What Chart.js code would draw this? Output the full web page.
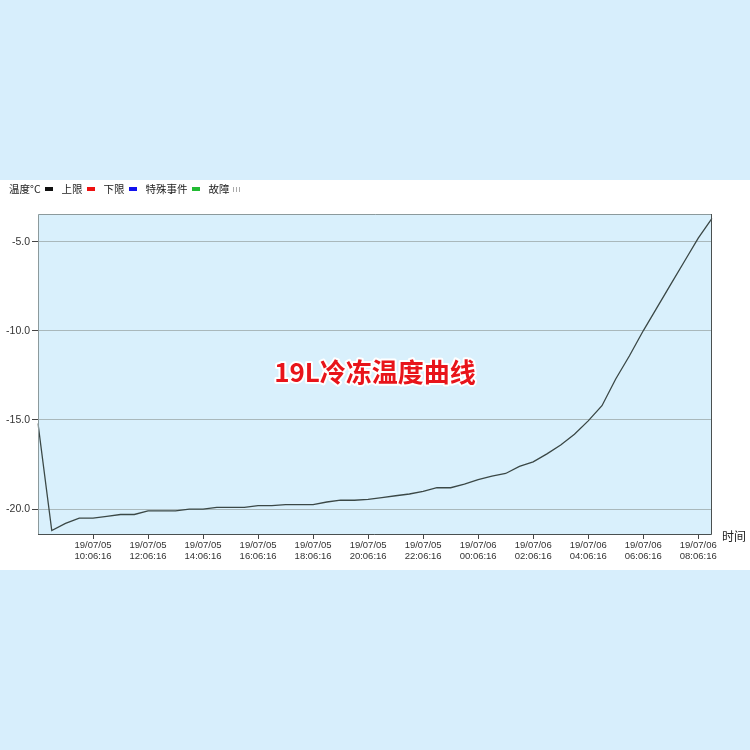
<!DOCTYPE html>
<html>
<head>
<meta charset="utf-8">
<script src="https://cdn.jsdelivr.net/npm/chart.js@4"></script>
<style>
  html, body { margin: 0; padding: 0; }
  body { width: 750px; height: 750px; background: #d7eefc; position: relative; overflow: hidden; font-family: "Liberation Sans", "Noto Sans CJK SC", sans-serif; }
  #band { position: absolute; left: 0; top: 180px; width: 750px; height: 390px; background: #ffffff; }
  #legend { position: absolute; left: 9px; top: 181px; display: flex; align-items: center; font-size: 10.5px; color: #222; font-family: "Noto Sans CJK SC", sans-serif; }
  #legend .box { display: inline-block; width: 8px; height: 4px; margin: 1px 9px 0 4px; }
  #wrap { position: absolute; left: 0; top: 180px; width: 750px; height: 390px; }
</style>
</head>
<body>
<div id="band"></div>
<div id="wrap"><canvas id="grafico-temp" width="750" height="390"></canvas></div>
<div id="legend"></div>
<script>
// half-hourly readings
const tempos = [
  '19/07/05 08:06:16', '19/07/05 08:36:16', '19/07/05 09:06:16', '19/07/05 09:36:16',
  '19/07/05 10:06:16', '19/07/05 10:36:16', '19/07/05 11:06:16', '19/07/05 11:36:16',
  '19/07/05 12:06:16', '19/07/05 12:36:16', '19/07/05 13:06:16', '19/07/05 13:36:16',
  '19/07/05 14:06:16', '19/07/05 14:36:16', '19/07/05 15:06:16', '19/07/05 15:36:16',
  '19/07/05 16:06:16', '19/07/05 16:36:16', '19/07/05 17:06:16', '19/07/05 17:36:16',
  '19/07/05 18:06:16', '19/07/05 18:36:16', '19/07/05 19:06:16', '19/07/05 19:36:16',
  '19/07/05 20:06:16', '19/07/05 20:36:16', '19/07/05 21:06:16', '19/07/05 21:36:16',
  '19/07/05 22:06:16', '19/07/05 22:36:16', '19/07/05 23:06:16', '19/07/05 23:36:16',
  '19/07/06 00:06:16', '19/07/06 00:36:16', '19/07/06 01:06:16', '19/07/06 01:36:16',
  '19/07/06 02:06:16', '19/07/06 02:36:16', '19/07/06 03:06:16', '19/07/06 03:36:16',
  '19/07/06 04:06:16', '19/07/06 04:36:16', '19/07/06 05:06:16', '19/07/06 05:36:16',
  '19/07/06 06:06:16', '19/07/06 06:36:16', '19/07/06 07:06:16', '19/07/06 07:36:16',
  '19/07/06 08:06:16', '19/07/06 08:36:16'
];
const temperaturas = [
  -15.2, -21.2, -20.8, -20.5, -20.5, -20.4, -20.3, -20.3,
  -20.1, -20.1, -20.1, -20.0, -20.0, -19.9, -19.9, -19.9,
  -19.8, -19.8, -19.75, -19.75, -19.75, -19.6, -19.5, -19.5,
  -19.45, -19.35, -19.25, -19.15, -19.0, -18.8, -18.8, -18.6,
  -18.35, -18.15, -18.0, -17.6, -17.35, -16.9, -16.4, -15.8,
  -15.05, -14.2, -12.7, -11.4, -10.0, -8.7, -7.4, -6.1,
  -4.8, -3.7
];
const ticksY = [-20, -15, -10, -5];
const legendaNomes = ['温度°C', '上限', '下限', '特殊事件', '故障'];
const legendaCores = ['#111111', '#ee1111', '#1111ee', '#22bb33', null];
const titulo = '19L冷冻温度曲线';
const eixoX = '时间';

// legend strip (marker after the name, like the original)
legendaNomes.forEach(function(nome, i){
  let s = document.createElement('span');
  s.textContent = nome;
  document.getElementById('legend').appendChild(s);
  let b = document.createElement('span');
  b.className = 'box';
  if (legendaCores[i]) {
    b.style.background = legendaCores[i];
  } else {
    b.style.background = 'repeating-linear-gradient(90deg, #aaa 0 1px, transparent 1px 3px)';
    b.style.height = '5px';
    b.style.marginLeft = '3px';
  }
  document.getElementById('legend').appendChild(b);
});

const pluginFundo = {
  id: 'fundo',
  beforeDraw(chart) {
    const a = chart.chartArea, ctx = chart.ctx;
    ctx.save();
    ctx.fillStyle = '#d9f0fc';
    ctx.fillRect(a.left, a.top, a.right - a.left, a.bottom - a.top);
    ctx.restore();
  },
  afterDraw(chart) {
    const a = chart.chartArea, ctx = chart.ctx;
    ctx.save();
    ctx.lineWidth = 1;
    ctx.strokeStyle = '#8c9a9c';
    ctx.beginPath();
    ctx.moveTo(a.left + 0.5, a.bottom); ctx.lineTo(a.left + 0.5, a.top + 0.5); ctx.lineTo(a.right, a.top + 0.5);
    ctx.stroke();
    ctx.strokeStyle = '#4a5050';
    ctx.beginPath();
    ctx.moveTo(a.right - 0.5, a.top); ctx.lineTo(a.right - 0.5, a.bottom - 0.5); ctx.lineTo(a.left, a.bottom - 0.5);
    ctx.stroke();

    ctx.font = 'bold 26px "Noto Sans CJK SC", sans-serif';
    ctx.textAlign = 'center';
    ctx.textBaseline = 'middle';
    ctx.lineJoin = 'round';
    ctx.lineWidth = 4;
    ctx.strokeStyle = '#ffffff';
    const cx = (a.left + a.right) / 2, cy = (a.top + a.bottom) / 2 - 2;
    ctx.strokeText(titulo, cx, cy);
    ctx.fillStyle = '#e8141a';
    ctx.fillText(titulo, cx, cy);

    ctx.font = '12px "Noto Sans CJK SC", sans-serif';
    ctx.fillStyle = '#222';
    ctx.textAlign = 'left';
    ctx.fillText(eixoX, a.right + 10, a.bottom + 1);
    ctx.restore();
  }
};

let context = document.getElementById('grafico-temp').getContext('2d');
let graficoTemp = new Chart(context, {
  type: 'line',
  data: {
    labels: tempos,
    datasets: [{
      label: '温度°C',
      data: temperaturas,
      borderColor: '#3b4846',
      borderWidth: 1.3,
      pointRadius: 0,
      tension: 0,
      fill: false
    }]
  },
  options: {
    responsive: false,
    animation: false,
    layout: { padding: { top: 34, right: 38, left: 0, bottom: 0 } },
    plugins: { legend: { display: false }, tooltip: { enabled: false } },
    scales: {
      x: {
        offset: false,
        afterFit(scale) { scale.height = 35; },
        afterBuildTicks(scale) {
          scale.ticks = scale.ticks.filter(t => t.value > 0 && t.value % 4 === 0);
        },
        grid: { drawOnChartArea: false, drawTicks: true, tickLength: 4, tickColor: '#444' },
        border: { display: false },
        ticks: {
          autoSkip: false, maxRotation: 0, padding: 1,
          color: '#333', font: { size: 9.5, family: '"Liberation Sans", Arial, sans-serif', lineHeight: 1.15 },
          callback: function(value) { return this.getLabelForValue(value).split(' '); }
        }
      },
      y: {
        min: -21.45,
        max: -3.45,
        afterFit(scale) { scale.width = 38; },
        afterBuildTicks(scale) {
          scale.ticks = ticksY.map(v => ({ value: v }));
        },
        grid: { color: '#a9b8bb', lineWidth: 1, tickLength: 6, tickColor: '#444' },
        border: { display: false },
        ticks: {
          padding: 2, color: '#333',
          font: { size: 10.5, family: '"Liberation Sans", Arial, sans-serif' },
          callback: v => v.toFixed(1)
        }
      }
    }
  },
  plugins: [pluginFundo]
});
</script>
</body>
</html>
